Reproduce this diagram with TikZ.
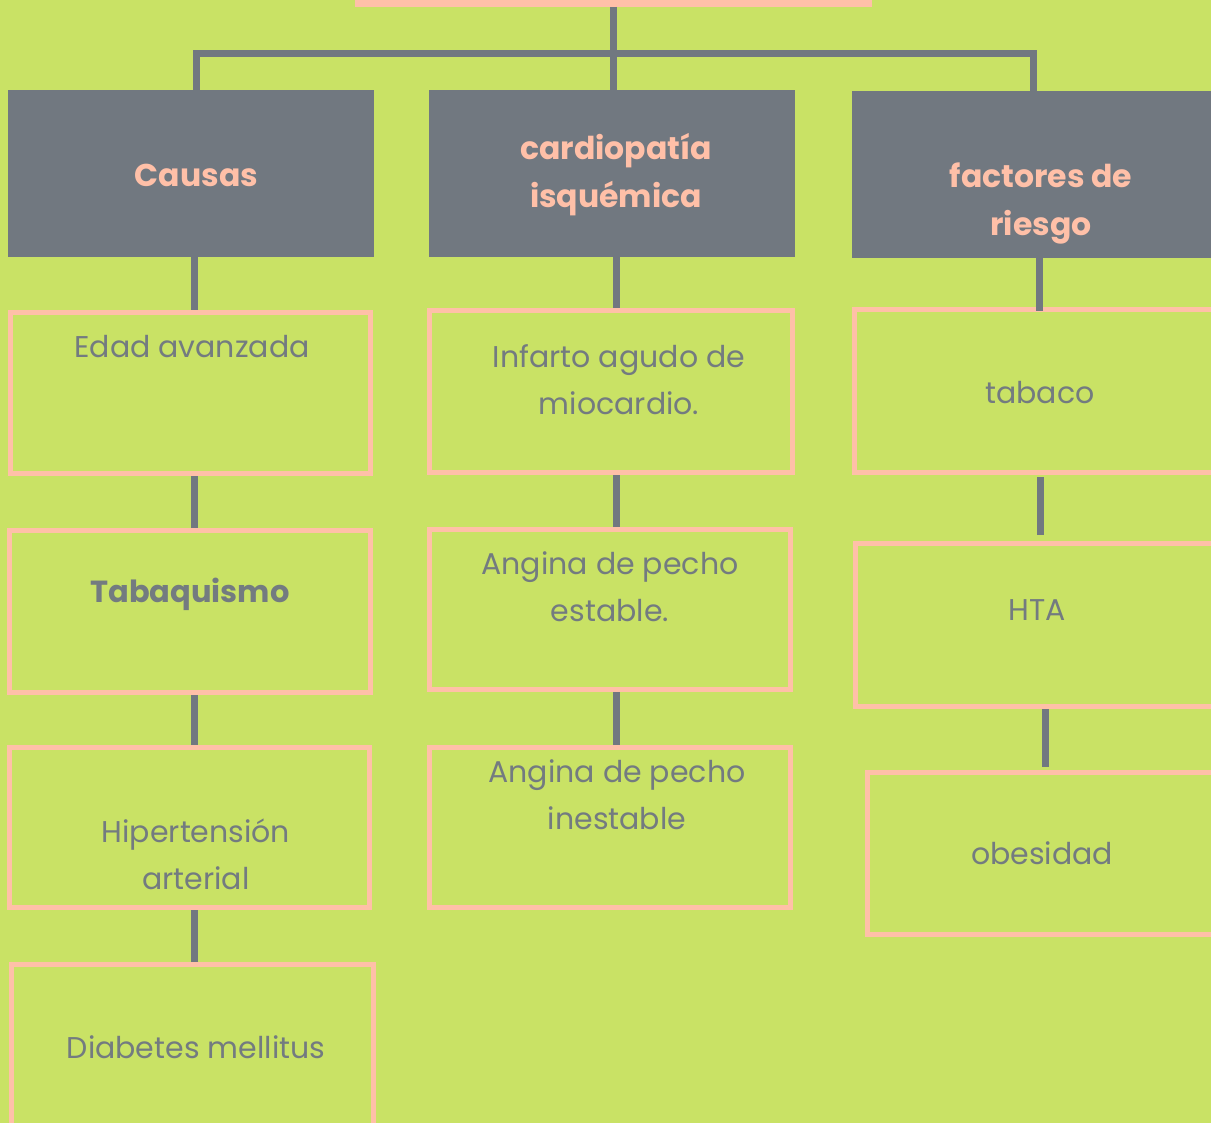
\documentclass[tikz,border=0pt]{standalone}
\usepackage{fontspec}
\setmainfont{Poppins}
\definecolor{bgc}{HTML}{C9E265}
\definecolor{grayc}{HTML}{717880}
\definecolor{pinkc}{HTML}{FFC0A8}
\definecolor{txtc}{HTML}{737B80}
\tikzset{
  box/.style={draw=pinkc, line width=5pt, inner sep=0pt, outer sep=0pt},
  head/.style={fill=grayc, inner sep=0pt, outer sep=0pt},
  conn/.style={draw=grayc, line width=7pt},
  txt/.style={text=txtc, align=center, inner sep=0pt, font=\fontsize{30}{47}\selectfont},
  htxt/.style={text=pinkc, align=center, inner sep=0pt, font=\fontsize{31.5}{48}\selectfont\bfseries},
}
\begin{document}
\begin{tikzpicture}[x=1pt,y=-1pt]
\useasboundingbox (0,0) rectangle (1211,1123);
\clip (0,0) rectangle (1211,1123);
\fill[bgc] (0,0) rectangle (1211,1123);

% root bar
\node[fill=pinkc, inner sep=0pt, outer sep=0pt, minimum width=517pt, minimum height=57pt] (root) at (613.5,-21.5) {};

% headers
\node[head, minimum width=366pt, minimum height=167pt] (h1) at (191,173.5) {};
\node[head, minimum width=366pt, minimum height=167pt] (h2) at (612,173.5) {};
\node[head, minimum width=378pt, minimum height=167pt] (h3) at (1041,174.5) {};
\node[htxt] (h1t) at (196.5,175) {Causas};
\node[htxt] (h2t) at (616,175) {cardiopatía\\isquémica};
\node[htxt] (h3t) at (1041,203) {factores de\\riesgo};

% child boxes
\node[box, minimum width=360pt, minimum height=161pt] (l1) at (190.5,393) {};
\node[box, minimum width=361pt, minimum height=162pt] (l2) at (190,611.5) {};
\node[box, minimum width=360pt, minimum height=160pt] (l3) at (189.5,827.5) {};
\node[box, minimum width=362pt, minimum height=161pt] (l4) at (192.5,1045) {};
\node[box, minimum width=363pt, minimum height=162pt] (m1) at (611,391.5) {};
\node[box, minimum width=361pt, minimum height=160pt] (m2) at (610,609.5) {};
\node[box, minimum width=361pt, minimum height=160pt] (m3) at (610,827.5) {};
\node[box, minimum width=373pt, minimum height=163pt] (r1) at (1041,391) {};
\node[box, minimum width=372pt, minimum height=163pt] (r2) at (1041.5,625) {};
\node[box, minimum width=370pt, minimum height=162pt] (r3) at (1052.5,853.5) {};

% texts
\node[txt] (l1t) at (192,347) {Edad avanzada};
\node[txt, font=\fontsize{30.5}{47}\selectfont\bfseries] (l2t) at (190,594) {Tabaquismo};
\node[txt] (l3t) at (196,854) {Hipertensión\\arterial};
\node[txt] (l4t) at (196,1047) {Diabetes mellitus};
\node[txt] (m1t) at (619,380) {Infarto agudo de\\miocardio.};
\node[txt] (m2t) at (610,587) {Angina de pecho\\estable.};
\node[txt] (m3t) at (617,795) {Angina de pecho\\inestable};
\node[txt] (r1t) at (1040,393) {tabaco};
\node[txt] (r2t) at (1037,610) {HTA};
\node[txt] (r3t) at (1042,853) {obesidad};

% column x positions and bus
\coordinate (bl) at (196,53.5);
\coordinate (br) at (1033.5,53.5);
\coordinate (cl) at (194.5,0);
\coordinate (cm) at (616.5,0);
\coordinate (cr1) at (1039.5,0);
\coordinate (cr2) at (1040.5,0);
\coordinate (cr3) at (1045.5,0);

% top connectors
\draw[conn] (root.south) -- (root.south |- h2.north);
\draw[conn] (bl |- h1.north) -- (bl) -- (br) -- (br |- h3.north);

% column connectors
\draw[conn] (cl |- h1.south) -- ([yshift=2.5pt]cl |- l1.north);
\draw[conn] ([yshift=-2.5pt]cl |- l1.south) -- ([yshift=2.5pt]cl |- l2.north);
\draw[conn] ([yshift=-2.5pt]cl |- l2.south) -- ([yshift=2.5pt]cl |- l3.north);
\draw[conn] ([yshift=-2.5pt]cl |- l3.south) -- ([yshift=2.5pt]cl |- l4.north);

\draw[conn] (cm |- h2.south) -- ([yshift=2.5pt]cm |- m1.north);
\draw[conn] ([yshift=-2.5pt]cm |- m1.south) -- ([yshift=2.5pt]cm |- m2.north);
\draw[conn] ([yshift=-2.5pt]cm |- m2.south) -- ([yshift=2.5pt]cm |- m3.north);

\draw[conn] (cr1 |- h3.south) -- ([yshift=-2pt]cr1 |- r1.north);
\draw[conn] ([yshift=-4.5pt]cr2 |- r1.south) -- ([yshift=8.5pt]cr2 |- r2.north);
\draw[conn] ([yshift=-2.5pt]cr3 |- r2.south) -- ([yshift=5.5pt]cr3 |- r3.north);
\end{tikzpicture}
\end{document}
